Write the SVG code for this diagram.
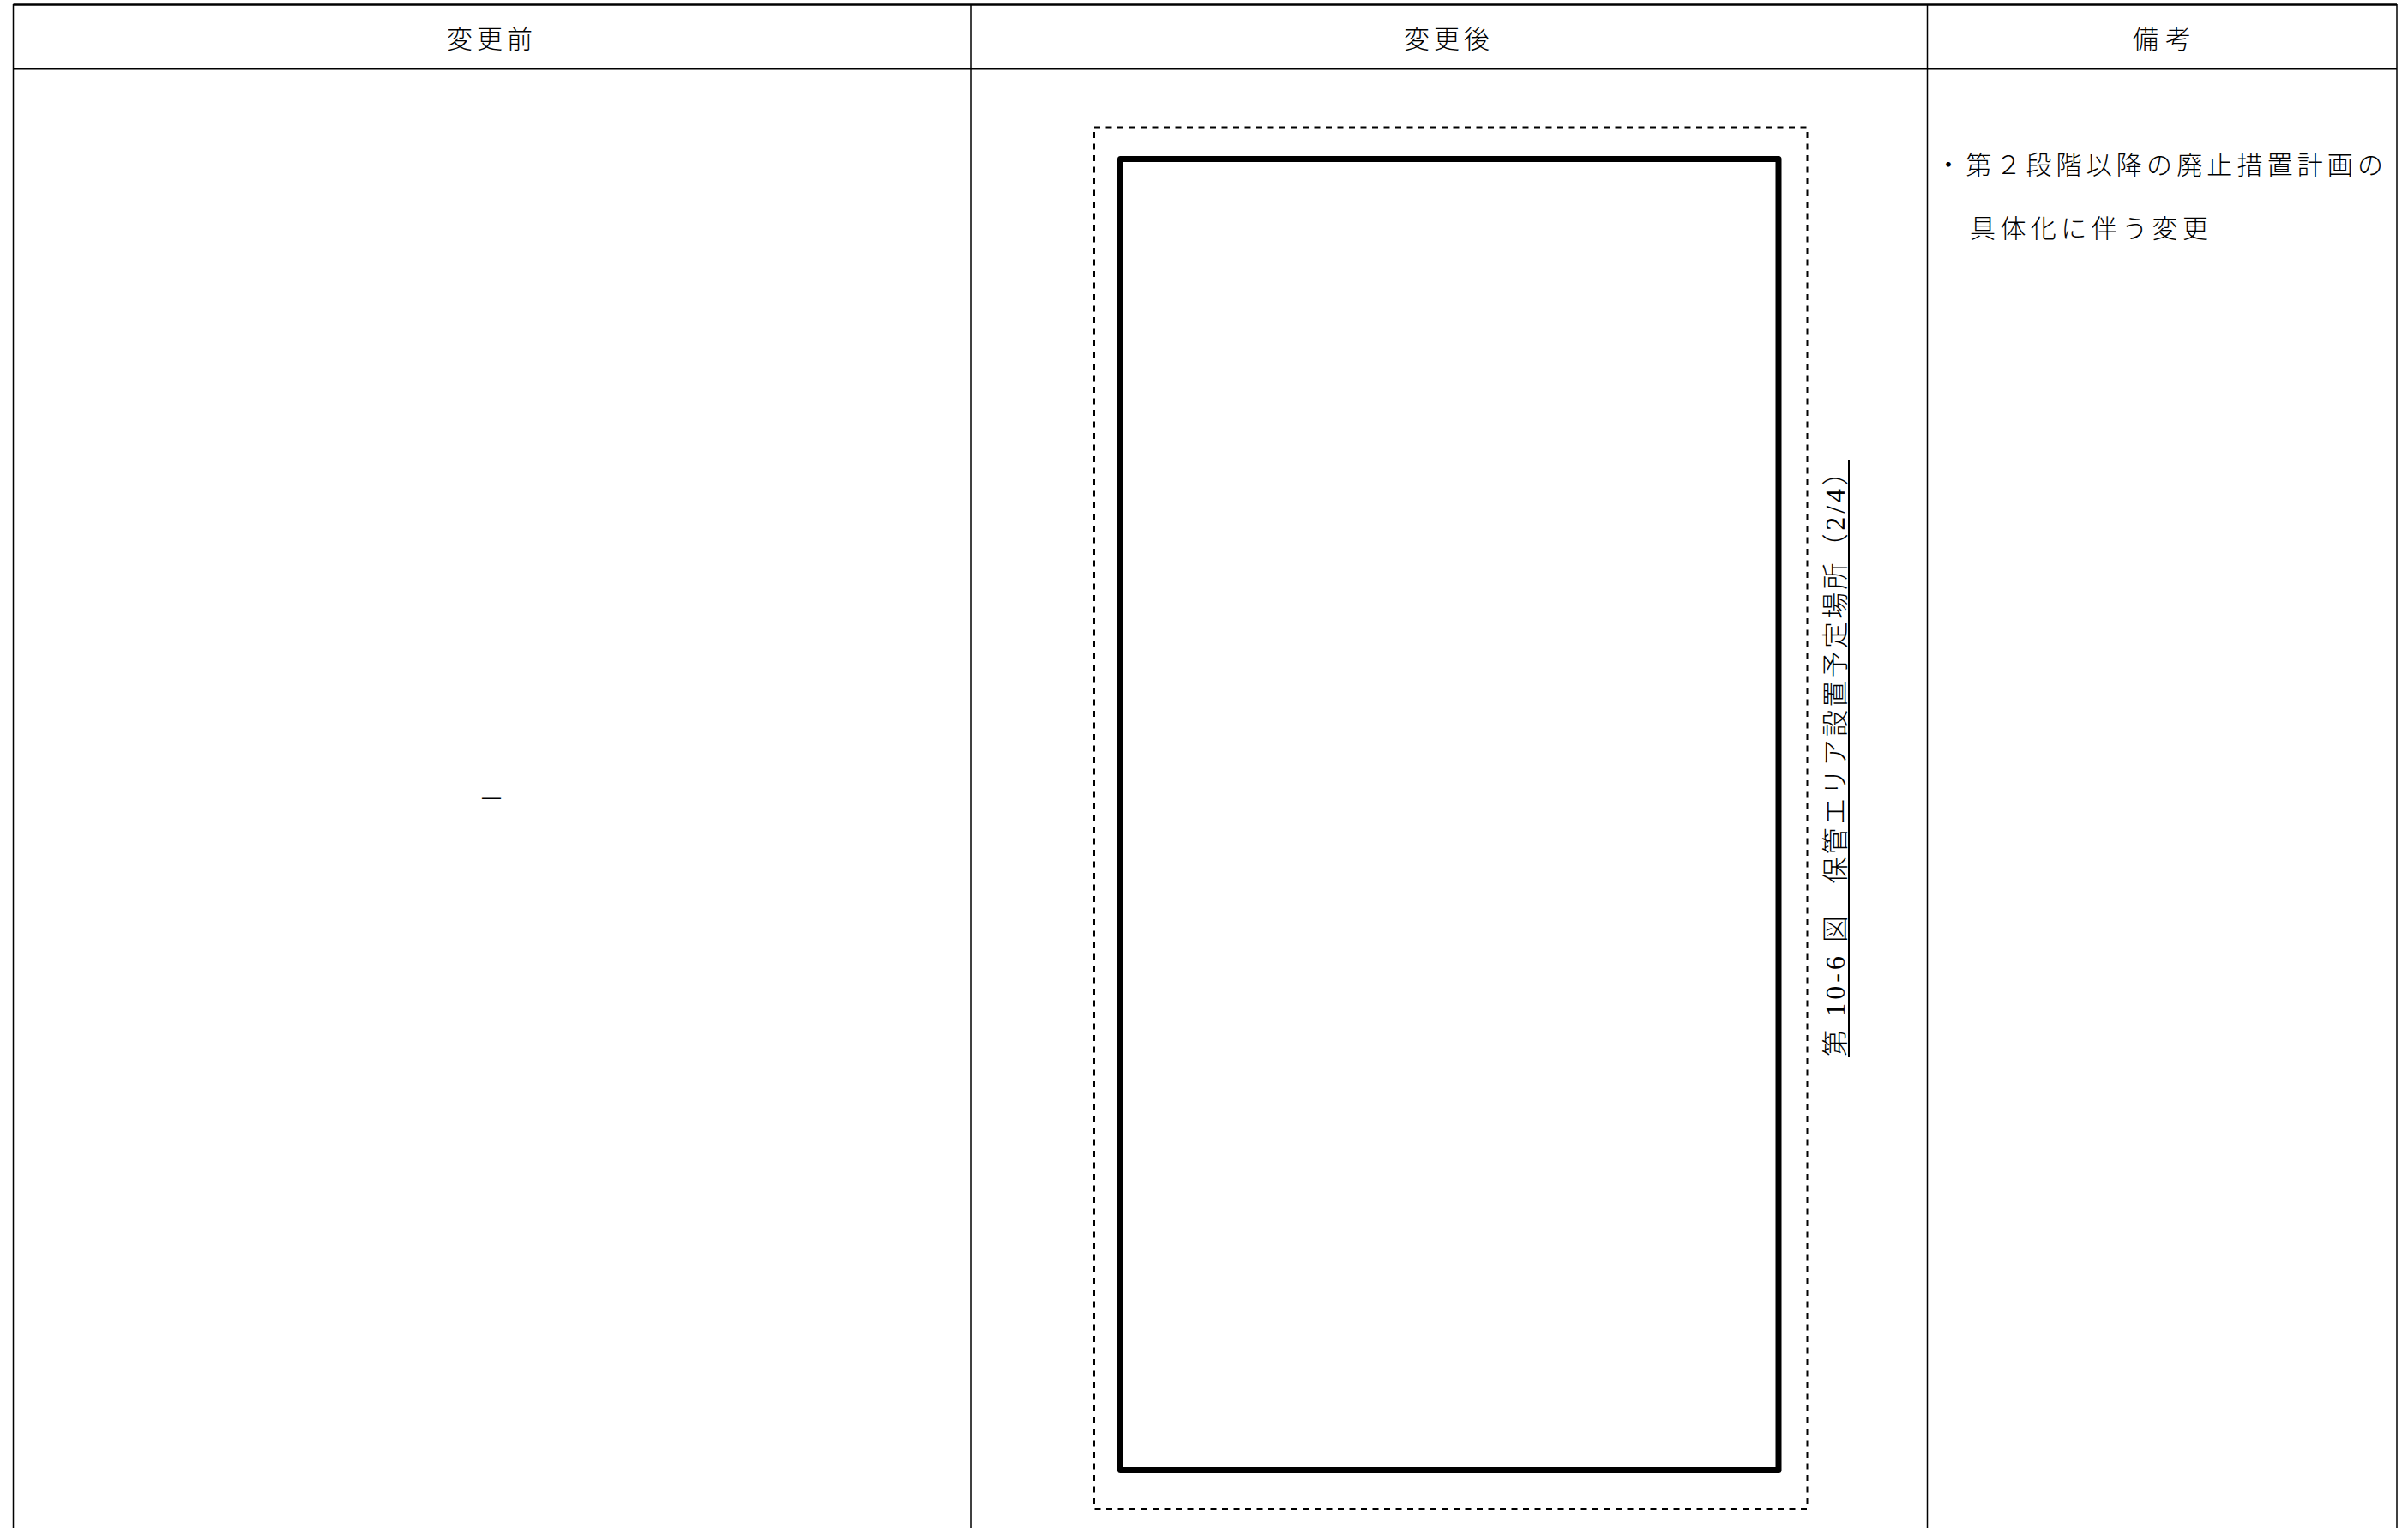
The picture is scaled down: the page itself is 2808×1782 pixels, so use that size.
<svg xmlns="http://www.w3.org/2000/svg" width="2808" height="1782" viewBox="0 0 2808 1782">
  <style>
    .t { font-family: 'Liberation Serif', 'Noto Sans CJK JP', serif; font-size: 30px; font-weight: 300; fill: #000; }
    .hline { stroke: #000; stroke-width: 2.5; fill: none; }
    .vline { stroke: #000; stroke-width: 1.5; fill: none; }
    .cj { letter-spacing: 3.3px; }
    .lt { letter-spacing: 4px; font-size: 32px; }
  </style>
  <rect x="0" y="0" width="2808" height="1782" fill="#fff"/>

  <g id="table-grid">
    <line class="hline" x1="15.5" y1="5.5" x2="2795" y2="5.5"/>
    <line class="hline" x1="15.5" y1="80.3" x2="2795" y2="80.3"/>
    <line class="vline" x1="15.5" y1="5" x2="15.5" y2="1782"/>
    <line class="vline" x1="1132" y1="5" x2="1132" y2="1782"/>
    <line class="vline" x1="2247.5" y1="5" x2="2247.5" y2="1782"/>
    <line class="vline" x1="2795" y1="5" x2="2795" y2="1782"/>
  </g>

  <g id="header-before">
    <text class="t" x="521" y="56" textLength="100" lengthAdjust="spacing">変更前</text>
  </g>
  <g id="header-after">
    <text class="t" x="1637" y="56" textLength="100" lengthAdjust="spacing">変更後</text>
  </g>
  <g id="header-remarks">
    <text class="t" x="2487" y="56" textLength="68" lengthAdjust="spacing">備考</text>
  </g>

  <g id="before-content">
    <text class="t" x="573" y="942" text-anchor="middle">－</text>
  </g>

  <g id="after-figure">
    <rect x="1276" y="148.5" width="831.5" height="1611.5" fill="none" stroke="#000" stroke-width="2" stroke-dasharray="7 6.5"/>
    <rect x="1306.5" y="185.5" width="767.5" height="1529" fill="none" stroke="#000" stroke-width="7" stroke-linejoin="round"/>
    <text class="t" style="font-size:31px" transform="translate(2150.5,1232) rotate(-90)" x="0" y="0"><tspan class="cj">第</tspan><tspan class="lt"> 10-6 </tspan><tspan class="cj">図　保管エリア設置予定場所（</tspan><tspan class="lt">2/4</tspan><tspan class="cj">）</tspan></text>
    <line x1="2156" y1="537" x2="2156" y2="1233" stroke="#000" stroke-width="2"/>
  </g>

  <g id="remarks-content">
    <text class="t" x="2257" y="203" textLength="522" lengthAdjust="spacing">・第２段階以降の廃止措置計画の</text>
    <text class="t" x="2297" y="277" textLength="278" lengthAdjust="spacing">具体化に伴う変更</text>
  </g>
</svg>
